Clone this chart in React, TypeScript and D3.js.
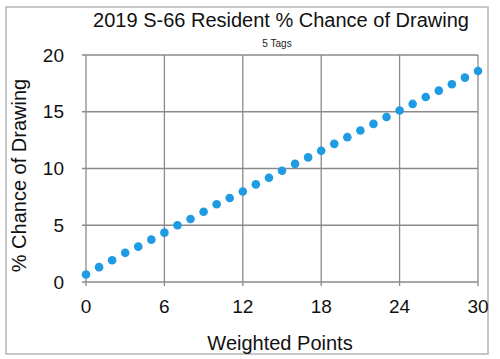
import React from "react";
import * as d3 from "d3";

const points: number[] = [
  0, 1, 2, 3, 4, 5, 6, 7, 8, 9, 10, 11, 12, 13, 14, 15, 16, 17, 18, 19, 20,
  21, 22, 23, 24, 25, 26, 27, 28, 29, 30,
];
const chance: number[] = [
  0.66, 1.31, 1.92, 2.57, 3.12, 3.73, 4.35, 5.0, 5.55, 6.19, 6.85, 7.4, 7.98,
  8.6, 9.18, 9.8, 10.41, 10.98, 11.56, 12.17, 12.76, 13.35, 13.93, 14.54,
  15.11, 15.69, 16.3, 16.86, 17.42, 18.01, 18.59,
];
const xTicks: number[] = [0, 6, 12, 18, 24, 30];
const yTicks: number[] = [0, 5, 10, 15, 20];

const title = "2019 S-66 Resident % Chance of Drawing";
const subtitle = "5 Tags";
const xTitle = "Weighted Points";
const yTitle = "% Chance of Drawing";

export default function App() {
  const W = 500;
  const H = 359;
  const x = d3.scaleLinear().domain([0, 30]).range([86, 478]);
  const y = d3.scaleLinear().domain([0, 20]).range([282, 55]);
  const font = "'Liberation Sans', Arial, Helvetica, sans-serif";
  const grid = "#8a8a8a";
  return (
    <svg
      width={W}
      height={H}
      style={{ position: "absolute", left: 0, top: 0, background: "#fff" }}
      fontFamily={font}
    >
      <rect x={6} y={7} width={482} height={347} fill="#fff" stroke="#b5b5b5" strokeWidth={1.5} />
      <text x={281} y={27} textAnchor="middle" fontSize={20} fill="#111">
        {title}
      </text>
      <text x={277} y={47} textAnchor="middle" fontSize={10} fill="#222">
        {subtitle}
      </text>
      {yTicks.map((t) => (
        <g key={"y" + t}>
          <line x1={x(0) - 4} x2={x(30)} y1={y(t)} y2={y(t)} stroke={grid} strokeWidth={1.3} />
          <text x={64} y={y(t)} dy="0.35em" textAnchor="end" fontSize={19} fill="#111">
            {t}
          </text>
        </g>
      ))}
      {xTicks.map((t) => (
        <g key={"x" + t}>
          <line x1={x(t)} x2={x(t)} y1={y(20)} y2={y(0) + 4} stroke={grid} strokeWidth={1.3} />
          <text x={x(t)} y={313} textAnchor="middle" fontSize={19} fill="#111">
            {t}
          </text>
        </g>
      ))}
      {points.map((p, i) => (
        <circle key={"c" + i} cx={x(p)} cy={y(chance[i])} r={4.3} fill="#1E9BE3" />
      ))}
      <text x={280} y={350} textAnchor="middle" fontSize={20} fill="#111">
        {xTitle}
      </text>
      <text
        transform={`translate(26,${(272 + 79) / 2}) rotate(-90)`}
        textAnchor="middle"
        fontSize={20}
        fill="#111"
      >
        {yTitle}
      </text>
    </svg>
  );
}
